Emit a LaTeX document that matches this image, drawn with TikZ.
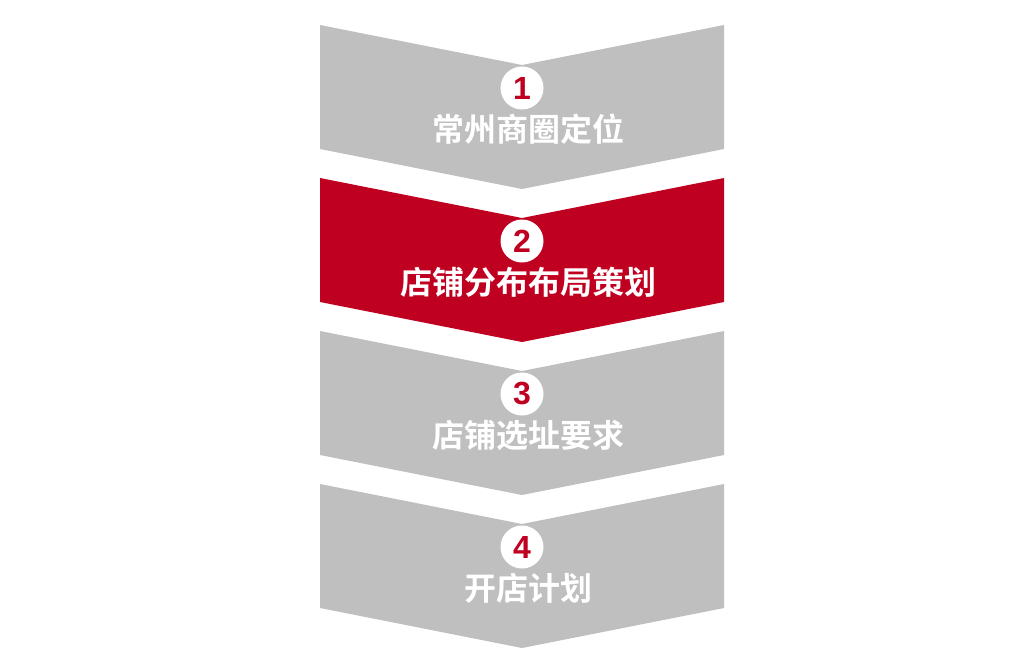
\documentclass[tikz,border=0pt]{standalone}
\usepackage{fontspec}
\setmainfont{Liberation Sans}
\newfontfamily\cjk{Noto Sans CJK SC}[BoldFont={Noto Sans CJK SC Bold}]
\definecolor{stepgray}{RGB}{191,191,191}
\definecolor{stepred}{RGB}{192,0,32}
\newcommand\chevronLeft{320}
\newcommand\chevronMid{522}
\newcommand\chevronRight{724}
\newcommand\chevronSide{124}
\newcommand\chevronDepth{40}
\newcommand\chevronDist{153}
\newcommand\drawChevron[2]{
	\fill[#2]
		(\chevronLeft,#1) --
		(\chevronMid,#1+\chevronDepth) --
		(\chevronRight,#1) --
		++(0,\chevronSide) --
		(\chevronMid,#1+\chevronSide+\chevronDepth) --
		(\chevronLeft,#1+\chevronSide) -- cycle;
}
\tikzset{
	numcircle/.style={circle, fill=white, minimum size=43pt, inner sep=0pt,
		text=stepred, font=\fontsize{32}{32}\selectfont\bfseries},
	steplabel/.style={text=white, inner sep=0pt,
		font=\cjk\fontsize{32}{32}\selectfont\bfseries}
}

\begin{document}
\begin{tikzpicture}[x=1pt, y=-1pt]
	\useasboundingbox (0,0) rectangle (1024,650);

	\foreach \i/\stepname/\stepcolor in {1/常州商圈定位/stepgray, 2/店铺分布布局策划/stepred, 3/店铺选址要求/stepgray, 4/开店计划/stepgray}{
		\pgfmathsetmacro\y{25+(\i-1)*\chevronDist}
		\drawChevron{\y}{\stepcolor}
		\node[numcircle] (num\i) at (\chevronMid,\y+63) {\i};
		\node[steplabel] (step\i) at (\chevronMid+6,\y+104) {\stepname};
	}
\end{tikzpicture}
\end{document}
